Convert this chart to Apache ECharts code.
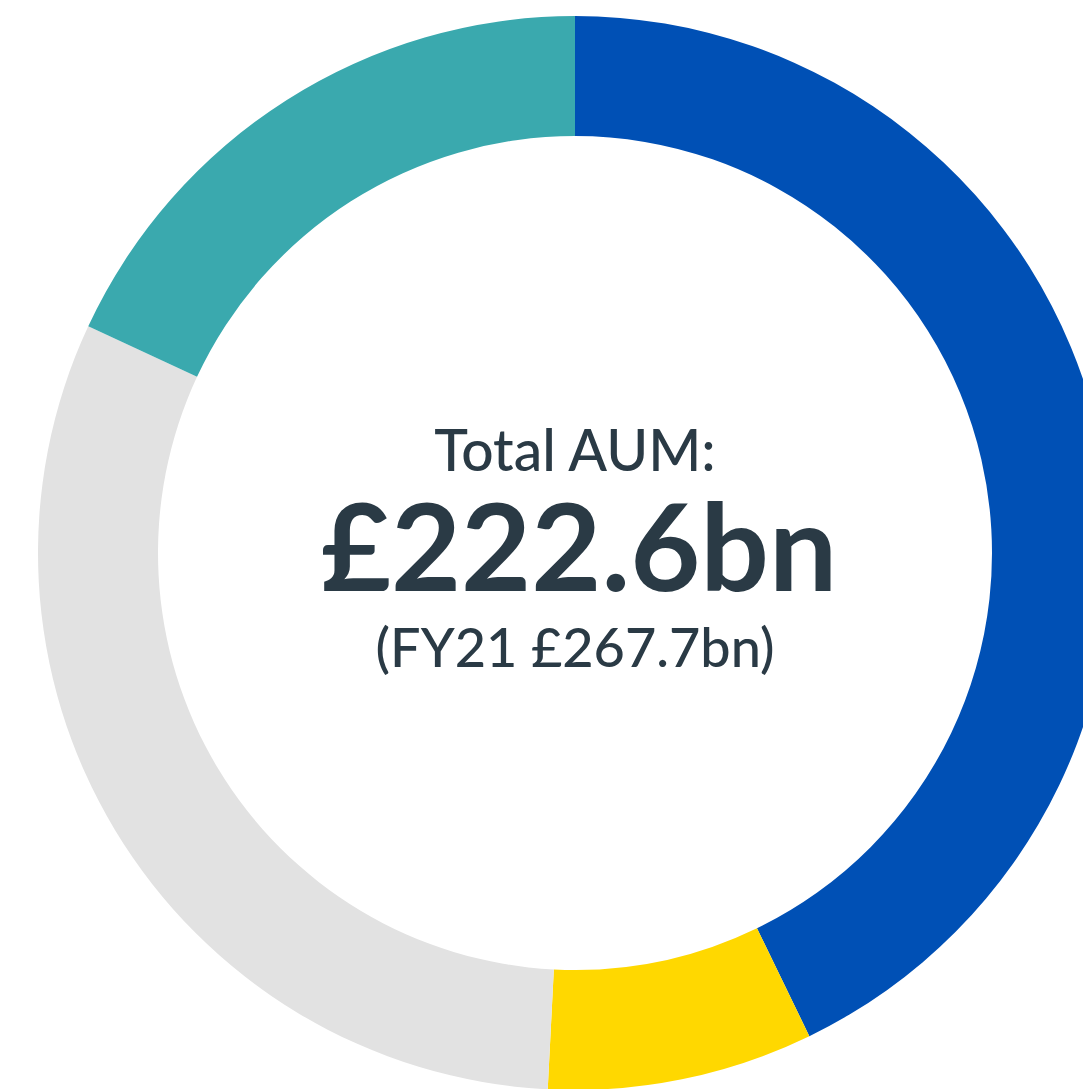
<!DOCTYPE html>
<html>
<head>
<meta charset="utf-8">
<script src="https://cdn.jsdelivr.net/npm/echarts@6/dist/echarts.min.js"></script>
<style>
html,body{margin:0;padding:0;background:#fff;}
#chart{width:1083px;height:1089px;}
</style>
</head>
<body>
<div id="chart"></div>
<script>
// Data
var categories = ['Segment A', 'Segment B', 'Segment C', 'Segment D'];
var values = [95.3, 17.8, 69.3, 40.2];
var colors = ['#0050b5', '#ffd800', '#e2e2e2', '#3aa9ae'];
var centerTexts = ['Total AUM:', '£222.6bn', '(FY21 £267.7bn)'];

var chart = echarts.init(document.getElementById('chart'), null, {renderer: 'svg'});
var textColor = '#2a3a45';
var fontFam = 'Lato, "Noto Sans", sans-serif';

chart.setOption({
  animation: false,
  series: [{
    type: 'pie',
    silent: true,
    center: [575, 553],
    radius: [417, 537],
    startAngle: 90,
    clockwise: true,
    label: {show: false},
    labelLine: {show: false},
    itemStyle: {borderWidth: 0},
    data: categories.map(function (c, i) {
      return {name: c, value: values[i], itemStyle: {color: colors[i]}};
    })
  }],
  graphic: [
    {type: 'text', x: 575, y: 449, style: {text: centerTexts[0], fill: textColor, align: 'center', verticalAlign: 'middle', lineHeight: 46, font: '500 57px ' + fontFam}},
    {type: 'text', x: 579, y: 544, style: {text: centerTexts[1], fill: textColor, align: 'center', verticalAlign: 'middle', lineHeight: 96, font: '700 121px ' + fontFam}},
    {type: 'text', x: 575, y: 646, style: {text: centerTexts[2], fill: textColor, align: 'center', verticalAlign: 'middle', lineHeight: 46, font: '500 54px ' + fontFam}}
  ]
});
</script>
</body>
</html>
